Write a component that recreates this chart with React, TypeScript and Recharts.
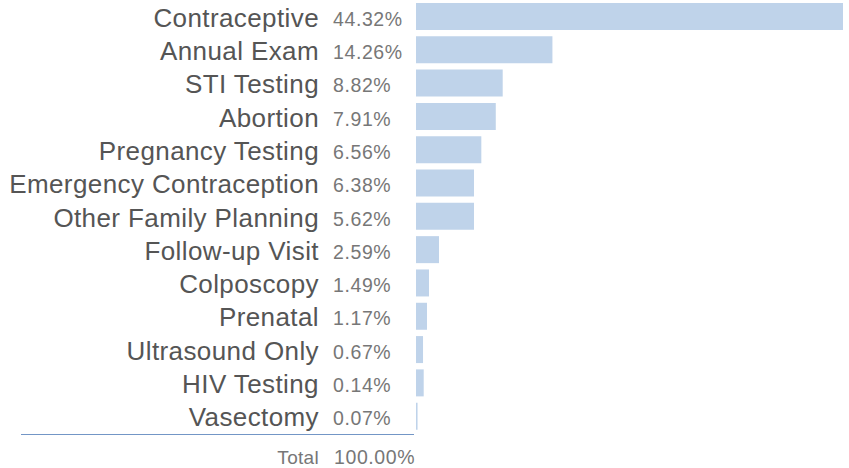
import { BarChart, Bar, XAxis, YAxis } from "recharts";

const services = [
  "Contraceptive",
  "Annual Exam",
  "STI Testing",
  "Abortion",
  "Pregnancy Testing",
  "Emergency Contraception",
  "Other Family Planning",
  "Follow-up Visit",
  "Colposcopy",
  "Prenatal",
  "Ultrasound Only",
  "HIV Testing",
  "Vasectomy",
];

// printed shares next to each name
const shareLabels = ["44.32%", "14.26%", "8.82%", "7.91%", "6.56%", "6.38%", "5.62%", "2.59%", "1.49%", "1.17%", "0.67%", "0.14%", "0.07%"];

// bar lengths as drawn (percent units)
const barShare = [44.32, 14.16, 9.0, 8.28, 6.78, 6.02, 6.02, 2.39, 1.35, 1.14, 0.73, 0.8, 0.16];

const totalLabel = "100.00%";

const data = services.map((name, i) => ({ name, label: shareLabels[i], value: barShare[i] }));

const FONT = "'Liberation Sans', Arial, Helvetica, sans-serif";

function ServiceTick(props: any) {
  const { y, payload, index } = props;
  return (
    <g>
      <text x={319} y={y + 10} textAnchor="end" fontFamily={FONT} fontSize={26} letterSpacing={0.4} fill="#555">
        {payload.value}
      </text>
      <text x={333} y={y + 9} textAnchor="start" fontFamily={FONT} fontSize={19.5} letterSpacing={0.6} fill="#777">
        {shareLabels[index]}
      </text>
    </g>
  );
}

export default function App() {
  return (
    <div style={{ position: "absolute", left: 0, top: 0, width: 849, height: 468, background: "#fff" }}>
      <BarChart
        width={849}
        height={468}
        data={data}
        layout="vertical"
        margin={{ top: 0, right: 6, bottom: 35, left: 0 }}
        barCategoryGap="9%"
      >
        <XAxis type="number" domain={[0, 44.32]} hide />
        <YAxis
          type="category"
          dataKey="name"
          width={416}
          axisLine={false}
          tickLine={false}
          interval={0}
          tick={<ServiceTick />}
        />
        <Bar dataKey="value" fill="#bfd3ea" isAnimationActive={false} />
      </BarChart>
      <svg width={849} height={468} style={{ position: "absolute", left: 0, top: 0, pointerEvents: "none" }}>
        <line x1={21} x2={414} y1={434.5} y2={434.5} stroke="#7396c6" strokeWidth={1} />
        <text x={319} y={464} textAnchor="end" fontFamily={FONT} fontSize={19} letterSpacing={0.3} fill="#777">
          Total
        </text>
        <text x={334} y={464} textAnchor="start" fontFamily={FONT} fontSize={19.5} letterSpacing={0.6} fill="#777">
          {totalLabel}
        </text>
      </svg>
    </div>
  );
}
